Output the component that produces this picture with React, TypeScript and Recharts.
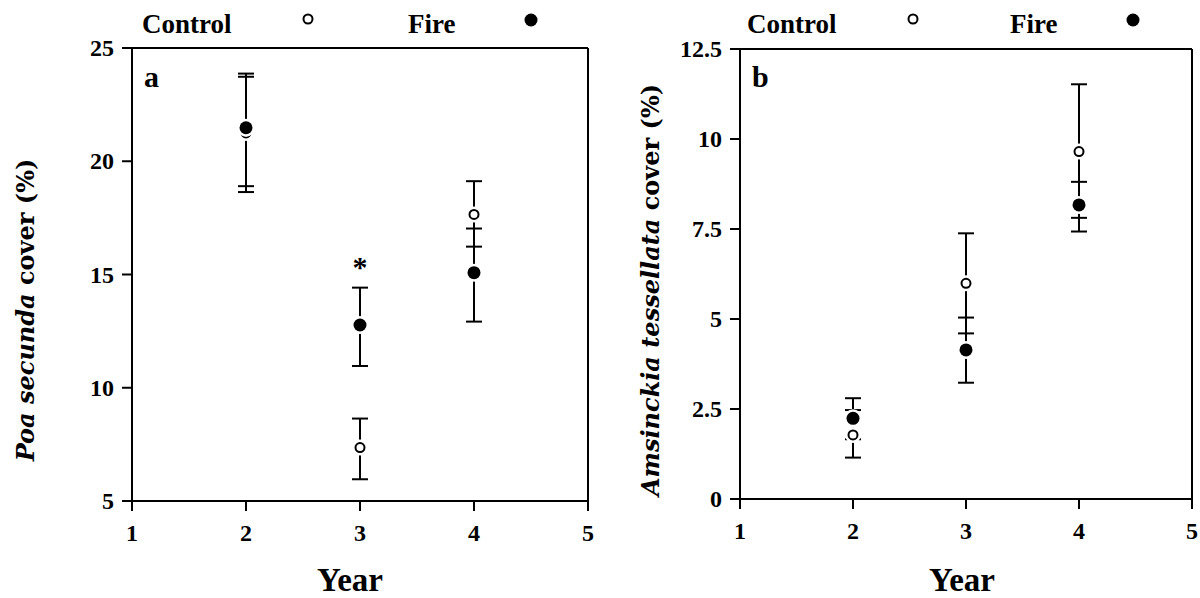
import {
  ScatterChart,
  Scatter,
  XAxis,
  YAxis,
  ErrorBar,
  ReferenceLine,
  ReferenceDot,
  Legend,
  Label,
} from "recharts";

const years = [2, 3, 4];
const xTicks = [1, 2, 3, 4, 5];

// Poa secunda cover (%), errors as [below, above]
const poaControl = [21.25, 7.36, 17.65];
const poaControlErr = [[2.61, 2.48], [1.4, 1.28], [1.42, 1.47]];
const poaFire = [21.48, 12.77, 15.08];
const poaFireErr = [[2.58, 2.39], [1.81, 1.65], [2.16, 1.95]];
const poaTicks = [5, 10, 15, 20, 25];
const poaStars = [{ year: 3, y: 15.35 }];

// Amsinckia tessellata cover (%)
const amsControl = [1.78, 5.99, 9.65];
const amsControlErr = [[0.63, 0.69], [1.39, 1.39], [1.84, 1.87]];
const amsFire = [2.24, 4.14, 8.17];
const amsFireErr = [[0.58, 0.56], [0.91, 0.9], [0.74, 0.64]];
const amsTicks = [0, 2.5, 5, 7.5, 10, 12.5];

const serif = "'Liberation Serif', 'Times New Roman', serif";

function rows(vals: number[], errs: number[][]) {
  return years.map((year, i) => ({ year, value: vals[i], err: errs[i] }));
}

const XTick = (p: any) => (
  <text x={p.x} y={p.y + 22} textAnchor="middle" fontFamily={serif} fontWeight={700} fontSize={24} fill="#000">
    {p.payload.value}
  </text>
);

const YTick = (p: any) => (
  <text x={p.x} y={p.y + 8} textAnchor="end" fontFamily={serif} fontWeight={700} fontSize={24} fill="#000">
    {p.payload.value}
  </text>
);

// white halo breaks the error bar line around each marker
const FireDot = (p: any) => (
  <g>
    <circle cx={p.cx} cy={p.cy} r={9} fill="#fff" />
    <circle cx={p.cx} cy={p.cy} r={6.5} fill="#000" />
  </g>
);

const ControlDot = (p: any) => (
  <g>
    <circle cx={p.cx} cy={p.cy} r={8} fill="#fff" />
    <circle cx={p.cx} cy={p.cy} r={4.5} fill="#fff" stroke="#000" strokeWidth={2} />
  </g>
);

interface PanelProps {
  left: number;
  letter: string;
  species: string;
  ticks: number[];
  control: number[];
  controlErr: number[][];
  fire: number[];
  fireErr: number[][];
  stars: { year: number; y: number }[];
  margin: { top: number; right: number; bottom: number; left: number };
  xAxisHeight: number;
  yLabelPos: [number, number];
  yearX: number;
  legendX: number[];
}

function Panel(p: PanelProps) {
  const lo = p.ticks[0];
  const hi = p.ticks[p.ticks.length - 1];
  const plotLeft = p.margin.left + 70;
  return (
    <div style={{ position: "absolute", left: p.left, top: 0 }}>
      <ScatterChart width={600} height={598} margin={p.margin}>
        <Legend
          verticalAlign="middle"
          layout="horizontal"
          align="center"
          wrapperStyle={{ top: 0, left: 0, width: 600, height: 44 }}
          content={() => (
            <svg width={600} height={44} style={{ display: "block" }}>
              <text x={p.legendX[0]} y={33} fontFamily={serif} fontWeight={700} fontSize={27}>
                Control
              </text>
              <circle cx={p.legendX[1]} cy={19} r={4.5} fill="#fff" stroke="#000" strokeWidth={2} />
              <text x={p.legendX[2]} y={33} fontFamily={serif} fontWeight={700} fontSize={27}>
                Fire
              </text>
              <circle cx={p.legendX[3]} cy={20} r={6.5} fill="#000" />
            </svg>
          )}
        />
        <XAxis
          type="number"
          dataKey="year"
          domain={[1, 5]}
          ticks={xTicks}
          allowDataOverflow
          height={p.xAxisHeight}
          stroke="#000"
          strokeWidth={2}
          tickSize={10}
          tickMargin={8}
          tick={XTick}
        >
          <Label
            content={() => (
              <text x={p.yearX} y={591} textAnchor="middle" fontFamily={serif} fontWeight={700} fontSize={33}>
                Year
              </text>
            )}
          />
        </XAxis>
        <YAxis
          type="number"
          dataKey="value"
          domain={[lo, hi]}
          ticks={p.ticks}
          allowDataOverflow
          width={70}
          stroke="#000"
          strokeWidth={2}
          tickSize={10}
          tickMargin={8}
          tick={YTick}
        >
          <Label
            content={() => (
              <text
                x={p.yLabelPos[0]}
                y={p.yLabelPos[1]}
                transform={`rotate(-90 ${p.yLabelPos[0]} ${p.yLabelPos[1]})`}
                textAnchor="middle"
                dominantBaseline="central"
                fontFamily="'DejaVu Serif', serif"
                fontWeight={700}
                fontSize={24}
              >
                <tspan fontStyle="italic">{p.species}</tspan> cover (%)
              </text>
            )}
          />
          <Label
            content={() => (
              <text x={plotLeft + 12} y={87} fontFamily={serif} fontWeight={700} fontSize={30}>
                {p.letter}
              </text>
            )}
          />
        </YAxis>
        <ReferenceLine y={hi} stroke="#000" strokeWidth={2} />
        <ReferenceLine x={5} stroke="#000" strokeWidth={2} />
        <Scatter
          name="Control"
          data={rows(p.control, p.controlErr)}
          shape={ControlDot}
          isAnimationActive={false}
        >
          <ErrorBar dataKey="err" direction="y" width={8} stroke="#000" strokeWidth={2} />
        </Scatter>
        <Scatter
          name="Fire"
          data={rows(p.fire, p.fireErr)}
          shape={FireDot}
          isAnimationActive={false}
        >
          <ErrorBar dataKey="err" direction="y" width={8} stroke="#000" strokeWidth={2} />
        </Scatter>
        {p.stars.map((s) => (
          <ReferenceDot
            key={s.year}
            x={s.year}
            y={s.y}
            r={0}
            stroke="none"
            label={{ value: "*", position: "center", fill: "#000", fontSize: 30, fontWeight: 700, fontFamily: serif }}
          />
        ))}
      </ScatterChart>
    </div>
  );
}

export default function App() {
  return (
    <div style={{ position: "absolute", left: 0, top: 0, width: 1200, height: 598, background: "#fff" }}>
      <Panel
        left={0}
        letter="a"
        species="Poa secunda"
        ticks={poaTicks}
        control={poaControl}
        controlErr={poaControlErr}
        fire={poaFire}
        fireErr={poaFireErr}
        stars={poaStars}
        margin={{ top: 48, right: 12, bottom: 0, left: 62 }}
        xAxisHeight={97}
        yLabelPos={[25, 310]}
        yearX={350}
        legendX={[142, 308, 408, 531]}
      />
      <Panel
        left={600}
        letter="b"
        species="Amsinckia tessellata"
        ticks={amsTicks}
        control={amsControl}
        controlErr={amsControlErr}
        fire={amsFire}
        fireErr={amsFireErr}
        stars={[]}
        margin={{ top: 49, right: 8, bottom: 0, left: 70 }}
        xAxisHeight={99}
        yLabelPos={[50, 290]}
        yearX={362}
        legendX={[147, 313, 410, 533]}
      />
    </div>
  );
}
